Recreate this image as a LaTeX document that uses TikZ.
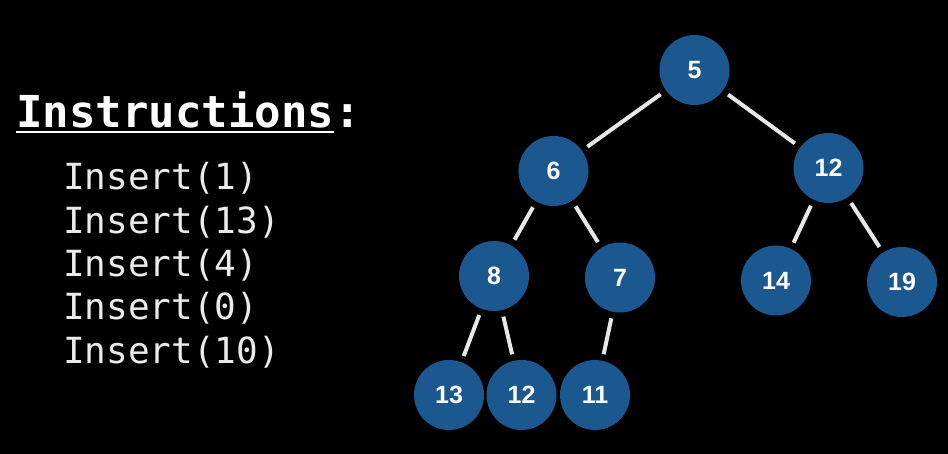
\documentclass[tikz,border=0pt]{standalone}
\usepackage{fontspec}
\setmainfont{Liberation Sans}
\newfontfamily\codefont{DejaVu Sans Mono}
\usetikzlibrary{positioning}

\newlength{\du}
\setlength{\du}{1pt}

\definecolor{heapblue}{rgb}{0.105882, 0.345098, 0.560784}
\definecolor{edgegray}{rgb}{0.905882, 0.905882, 0.905882}
\definecolor{textgray}{rgb}{0.921569, 0.921569, 0.921569}

\newcommand{\ulword}[1]{{\setbox0\hbox{#1}\rlap{\raisebox{-5\du}{\rule{\wd0}{2.4\du}}}\box0}}

\tikzset{
  heapnode/.style={circle, fill=heapblue, draw=none, minimum size=70\du, inner sep=0pt,
    text=white, font=\fontsize{25}{25}\selectfont\bfseries},
  heapedge/.style={draw=edgegray, line width=4\du, shorten <=6.5\du, shorten >=6.5\du},
  codeline/.style={anchor=base west, inner sep=0pt, text=textgray,
    font=\codefont\fontsize{36}{36}\selectfont}
}

\begin{document}
\begin{tikzpicture}
\pgftransformxscale{1.000000}
\pgftransformyscale{-1.000000}
% background
\fill[black] (0\du,0\du) rectangle (948\du,454\du);
\useasboundingbox (0\du,0\du) rectangle (948\du,454\du);
% setfont left to latex
\node[anchor=base west, inner sep=0pt, text=white, font=\codefont\bfseries\fontsize{44}{44}\selectfont] (title) at (16.000000\du,128.000000\du){\ulword{Instructions}:};
% setfont left to latex
\node[codeline] (ins1) at (63.000000\du,190.000000\du){Insert(1)};
\node[codeline] (ins2) at (63.000000\du,233.500000\du){Insert(13)};
\node[codeline] (ins3) at (63.000000\du,277.000000\du){Insert(4)};
\node[codeline] (ins4) at (63.000000\du,320.000000\du){Insert(0)};
\node[codeline] (ins5) at (63.000000\du,363.000000\du){Insert(10)};
% heap nodes
\node[heapnode] (n5) at (694.500000\du,70.000000\du){5};
\node[heapnode] (n6) at (553.500000\du,171.000000\du){6};
\node[heapnode] (n12) at (828.500000\du,168.000000\du){12};
\node[heapnode] (n8) at (494.000000\du,276.000000\du){8};
\node[heapnode] (n7) at (620.000000\du,277.500000\du){7};
\node[heapnode] (n14) at (776.000000\du,280.500000\du){14};
\node[heapnode] (n19) at (902.000000\du,282.000000\du){19};
\node[heapnode] (n13) at (449.000000\du,395.000000\du){13};
\node[heapnode] (n12b) at (521.500000\du,395.000000\du){12};
\node[heapnode] (n11) at (595.000000\du,395.000000\du){11};
% heap edges
\draw[heapedge] (n5)--(n6);
\draw[heapedge] (n5)--(n12);
\draw[heapedge] (n6)--(n8);
\draw[heapedge] (n6)--(n7);
\draw[heapedge] (n12)--(n14);
\draw[heapedge] (n12)--(n19);
\draw[heapedge] (n8)--(n13);
\draw[heapedge] (n8)--(n12b);
\draw[heapedge] (n7)--(n11);
\end{tikzpicture}
\end{document}
